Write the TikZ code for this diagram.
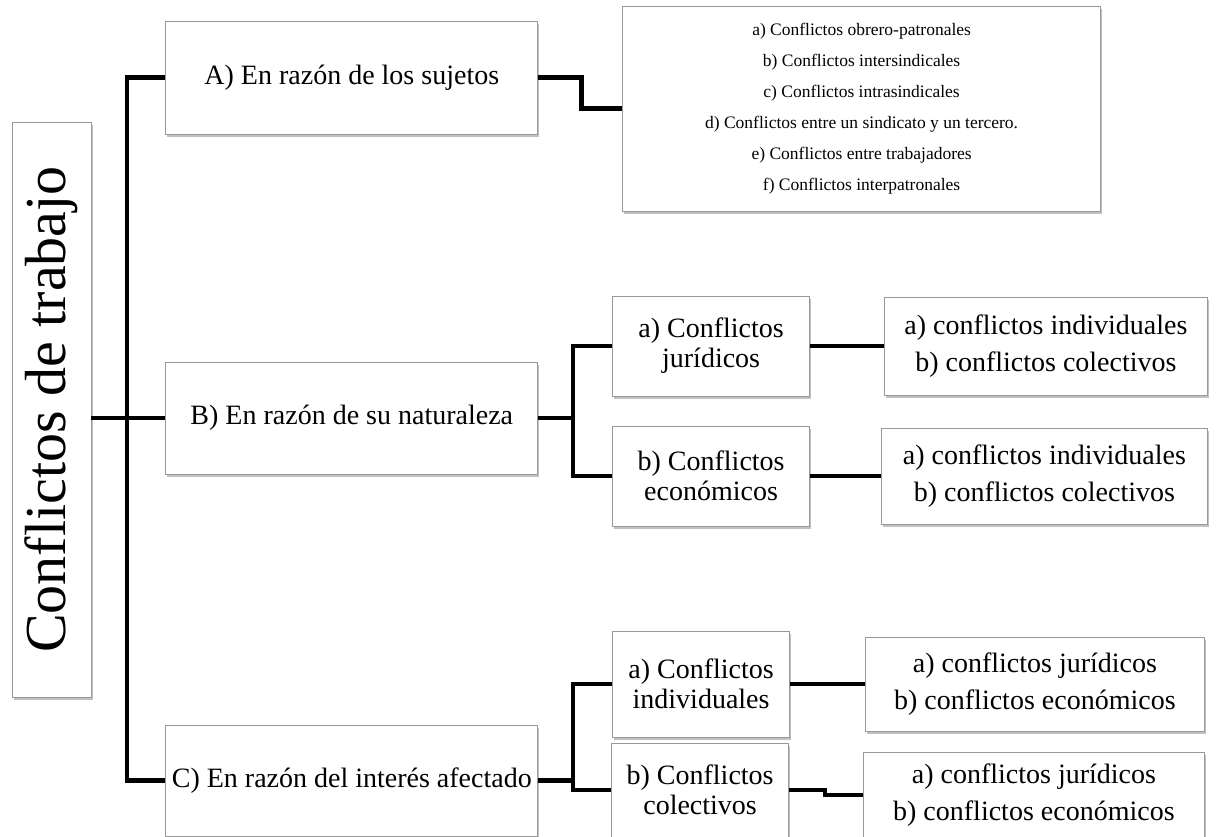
\documentclass[tikz,border=0pt]{standalone}
\usepackage{fontspec}
\setmainfont{Liberation Serif}
\usetikzlibrary{positioning,shadows}

\tikzset{
  box/.style={draw=black!40, fill=white, line width=0.8pt, inner sep=0pt, align=center,
    drop shadow={shadow xshift=1.5pt, shadow yshift=-2.5pt, opacity=0.35, fill=black!70},
    font=\fontsize{28}{30}\selectfont},
  listbox/.style={box, font=\fontsize{28}{37}\selectfont},
  link/.style={line width=4.6pt}
}

\begin{document}
\begin{tikzpicture}[x=1pt,y=-1pt,node distance=74pt]
  \useasboundingbox (0,0) rectangle (1225,836);

  \node[box, minimum width=79pt, minimum height=575pt] (root) at (51.5,409.5)
       {\fontsize{58}{60}\selectfont\rotatebox{90}{Conflictos de trabajo}};

  \node[box, minimum width=372pt, minimum height=113pt] (A) [right=of root, yshift=332pt] {A) En razón de los sujetos};
  \node[box, minimum width=372pt, minimum height=112pt] (B) [right=of root, yshift=-8.5pt] {B) En razón de su naturaleza};
  \node[box, minimum width=372pt, minimum height=111pt] (C) [right=of root, yshift=-371pt] {C) En razón del interés afectado};

  \node[box, minimum width=478pt, minimum height=205pt, font=\fontsize{17.5}{31}\selectfont] (Alist) [right=84pt of A, yshift=-31pt]
       {a) Conflictos obrero-patronales\\
        b) Conflictos intersindicales\\
        c) Conflictos intrasindicales\\
        d) Conflictos entre un sindicato y un tercero.\\
        e) Conflictos entre trabajadores\\
        f) Conflictos interpatronales};

  \node[box, minimum width=197pt, minimum height=100pt] (Ba) [right=of B, yshift=72pt] {a) Conflictos\\jurídicos};
  \node[box, minimum width=197pt, minimum height=100pt] (Bb) [right=of B, yshift=-58pt] {b) Conflictos\\económicos};
  \node[listbox, minimum width=323pt, minimum height=98pt] (Balist) [right=of Ba] {a) conflictos individuales\\b) conflictos colectivos};
  \node[listbox, minimum width=326pt, minimum height=96pt] (Bblist) [right=71pt of Bb] {a) conflictos individuales\\b) conflictos colectivos};

  \node[box, minimum width=177pt, minimum height=106pt] (Ca) [right=of C, yshift=96.5pt] {a) Conflictos\\individuales};
  \node[box, minimum width=177pt, minimum height=94pt] (Cb) [right=73pt of C, yshift=-9.5pt] {b) Conflictos\\colectivos};
  \node[listbox, minimum width=339pt, minimum height=94pt] (Calist) [right=75pt of Ca] {a) conflictos jurídicos\\b) conflictos económicos};
  \node[listbox, minimum width=341pt, minimum height=86pt] (Cblist) [right=of Cb, yshift=-5pt] {a) conflictos jurídicos\\b) conflictos económicos};

  % junctions of the brackets
  \coordinate (spine) at (127,418);
  \coordinate (bfork) at (573,418);
  \coordinate (cfork) at (573,780.5);

  \draw[link] (A.west) -| (spine) |- (C.west);
  \draw[link] (root.east |- B.west) -- (B.west);
  \draw[link] (A.east) -- ++(43,0) |- (Alist.west);

  \draw[link] (B.east) -- (bfork);
  \draw[link] (Ba.west) -| (bfork) |- (Bb.west);
  \draw[link] (Ba) -- (Balist);
  \draw[link] (Bb) -- (Bblist);

  \draw[link] (C.east) -- (cfork);
  \draw[link] (Ca.west) -| (cfork) |- (Cb.west);
  \draw[link] (Ca) -- (Calist);
  \draw[link] (Cb.east) -- ++(36,0) |- (Cblist.west);
\end{tikzpicture}
\end{document}
